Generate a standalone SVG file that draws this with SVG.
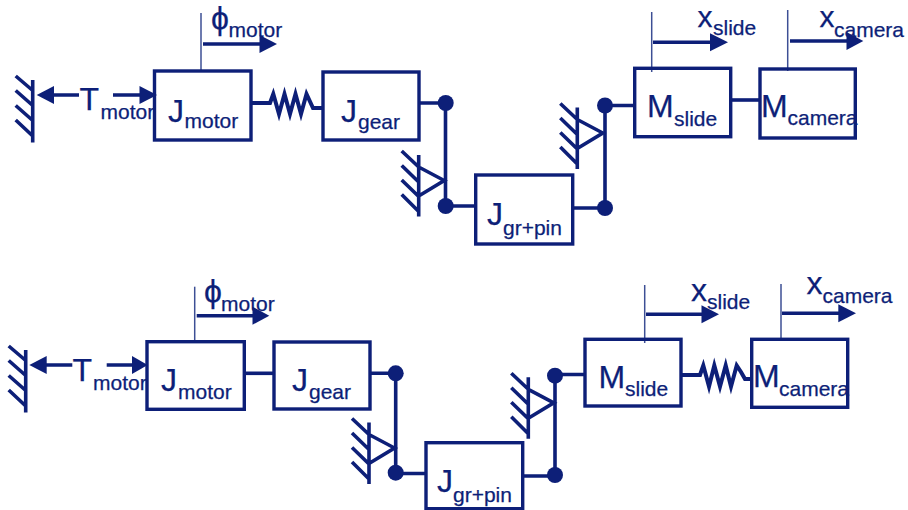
<svg xmlns="http://www.w3.org/2000/svg" width="908" height="510" viewBox="0 0 908 510">
<style>
text{font-family:"Liberation Sans",Arial,sans-serif;fill:#0d1f78;stroke:#0d1f78;stroke-width:.25}
.b{font-size:32px}
.x{font-size:30px}
.s{font-size:21px}
.box{fill:none;stroke:#0d1f78;stroke-width:3.4}
.w{fill:none;stroke:#0d1f78;stroke-width:3.6}
.t{fill:none;stroke:#3d4f95;stroke-width:1.5}
.k{fill:none;stroke:#0d1f78;stroke-width:4;stroke-linejoin:miter}
.a{fill:#0d1f78}
.d{fill:#0d1f78}
</style>
<defs>
<g id="gnd"><path class="w" d="M0 0V62.500M-17 -4L0 10.500M-17 10.500L0 25.500M-17 25.500L0 40.500M-17 40L0 56"/></g>
<g id="piv"><path class="w" d="M0 0V61.500M-17 -4L0 12M-17 10.500L0 27M-17 25L0 41.500M-17 39.500L0 56.500M0 12L25.500 25.500L0 41"/></g>
</defs>
<g id="connectors">
<path class="w" d="M53 95H79M113 95H141"/><path class="a" d="M36.700 95L54 86V104Z"/><path class="a" d="M157 95L139.500 86V104Z"/>
<path class="t" d="M201 13V71"/><path class="w" d="M203 44H261"/><path class="a" d="M277 44L259.500 35V53Z"/>
<path class="k" d="M252 103H270L273.300 94L279 114L284.500 94L290 114L295.500 94L301 114L306.500 94L313 108H323"/>
<path class="w" d="M419 103H445.500V206H476"/>
<path class="w" d="M573 208H605V105.500H635"/>
<circle class="d" cx="445.700" cy="103" r="8"/><circle class="d" cx="445.700" cy="206" r="8"/><circle class="d" cx="605" cy="208" r="8"/><circle class="d" cx="605" cy="105.500" r="8"/>
<path class="w" d="M731 100H760"/>
<path class="t" d="M651.700 12V72"/><path class="w" d="M653 42.300H712"/><path class="a" d="M728 42.300L710 33.300V51.300Z"/>
<path class="t" d="M787.700 10V71"/><path class="w" d="M790 41H848"/><path class="a" d="M863.300 41L846.500 32V50Z"/>

<path class="w" d="M45 365H72.300M106.700 365H134"/><path class="a" d="M29.300 365L46.700 356V374Z"/><path class="a" d="M147.700 365L132 356V374Z"/>
<path class="t" d="M194.700 286.700V343"/><path class="w" d="M196.700 315.700H254"/><path class="a" d="M269.300 315.700L252.500 306.700V324.700Z"/>
<path class="w" d="M245 373.300H274"/>
<path class="w" d="M370 373.300H395.700V473.500H426"/>
<path class="w" d="M523 476H555V374.500H585"/>
<circle class="d" cx="395.700" cy="373.300" r="8"/><circle class="d" cx="395.700" cy="472.700" r="8"/><circle class="d" cx="555" cy="475" r="8"/><circle class="d" cx="555" cy="375.700" r="8"/>
<path class="k" d="M682 375H700L703.300 365.500L709 386.500L714.300 365.500L720 386.500L725.700 365.500L731 386.500L736.700 365.500L741 372L745 379H752"/>
<path class="t" d="M644.700 285V343"/><path class="w" d="M646 314.300H703"/><path class="a" d="M719 314.300L701.500 305.300V323.300Z"/>
<path class="t" d="M781 284V340"/><path class="w" d="M782 313.300H840"/><path class="a" d="M856 313.300L838.300 304.300V322.300Z"/>
</g>
<g id="ground-top"><use href="#gnd" x="32.700" y="80"/></g>
<g id="ground-bottom"><use href="#gnd" x="25.700" y="350"/></g>
<g id="pivot-top-left"><use href="#piv" x="418.700" y="155"/></g>
<g id="pivot-top-right"><use href="#piv" x="577.300" y="107.500"/></g>
<g id="pivot-bottom-left"><use href="#piv" x="369" y="422.500"/></g>
<g id="pivot-bottom-right"><use href="#piv" x="528.300" y="377.300"/></g>

<g id="t-motor-top"><text class="b" x="79.500" y="109.500">T</text><text class="s" x="100.500" y="118.700">motor</text></g>
<g id="phi-motor-top"><text class="b" x="211" y="29.200">ϕ</text><text class="s" x="228.500" y="36.700">motor</text></g>
<g id="j-motor-top"><rect class="box" x="154.500" y="71" width="96.500" height="69"/><text class="b" x="168" y="121.700">J</text><text class="s" x="184.500" y="128.300">motor</text></g>
<g id="j-gear-top"><rect class="box" x="323" y="72" width="96" height="68"/><text class="b" x="341" y="122">J</text><text class="s" x="358" y="129">gear</text></g>
<g id="j-grpin-top"><rect class="box" x="475.700" y="175" width="97" height="69"/><text class="b" x="487" y="225">J</text><text class="s" x="503" y="235">gr+pin</text></g>
<g id="m-slide-top"><rect class="box" x="634.700" y="68.300" width="96" height="68.400"/><text class="b" x="647" y="116.700">M</text><text class="s" x="674" y="125.700">slide</text></g>
<g id="m-camera-top"><rect class="box" x="760" y="69" width="95.300" height="69"/><text class="b" x="761" y="116.700">M</text><text class="s" x="787.500" y="125">camera</text></g>
<g id="x-slide-top"><text class="x" x="697.500" y="27.300">x</text><text class="s" x="713" y="35">slide</text></g>
<g id="x-camera-top"><text class="x" x="819.500" y="27.300">x</text><text class="s" x="834" y="36.700">camera</text></g>

<g id="t-motor-bottom"><text class="b" x="72.500" y="381">T</text><text class="s" x="93" y="390">motor</text></g>
<g id="phi-motor-bottom"><text class="b" x="204" y="302">ϕ</text><text class="s" x="221" y="310.700">motor</text></g>
<g id="j-motor-bottom"><rect class="box" x="147" y="341.700" width="97.300" height="67.600"/><text class="b" x="161" y="390.700">J</text><text class="s" x="178" y="399.300">motor</text></g>
<g id="j-gear-bottom"><rect class="box" x="274" y="342" width="96" height="67"/><text class="b" x="292" y="390.700">J</text><text class="s" x="309" y="399.300">gear</text></g>
<g id="j-grpin-bottom"><rect class="box" x="426" y="442.700" width="96.700" height="66"/><text class="b" x="437" y="491.700">J</text><text class="s" x="453" y="501.700">gr+pin</text></g>
<g id="m-slide-bottom"><rect class="box" x="585" y="339.300" width="96" height="66.700"/><text class="b" x="598.500" y="388.300">M</text><text class="s" x="625" y="396">slide</text></g>
<g id="m-camera-bottom"><rect class="box" x="751.700" y="339.300" width="96" height="68"/><text class="b" x="753" y="387.300">M</text><text class="s" x="779" y="396">camera</text></g>
<g id="x-slide-bottom"><text class="b" x="691" y="300.700">x</text><text class="s" x="707" y="309">slide</text></g>
<g id="x-camera-bottom"><text class="b" x="806.500" y="294.300">x</text><text class="s" x="822.500" y="302.700">camera</text></g>
</svg>
